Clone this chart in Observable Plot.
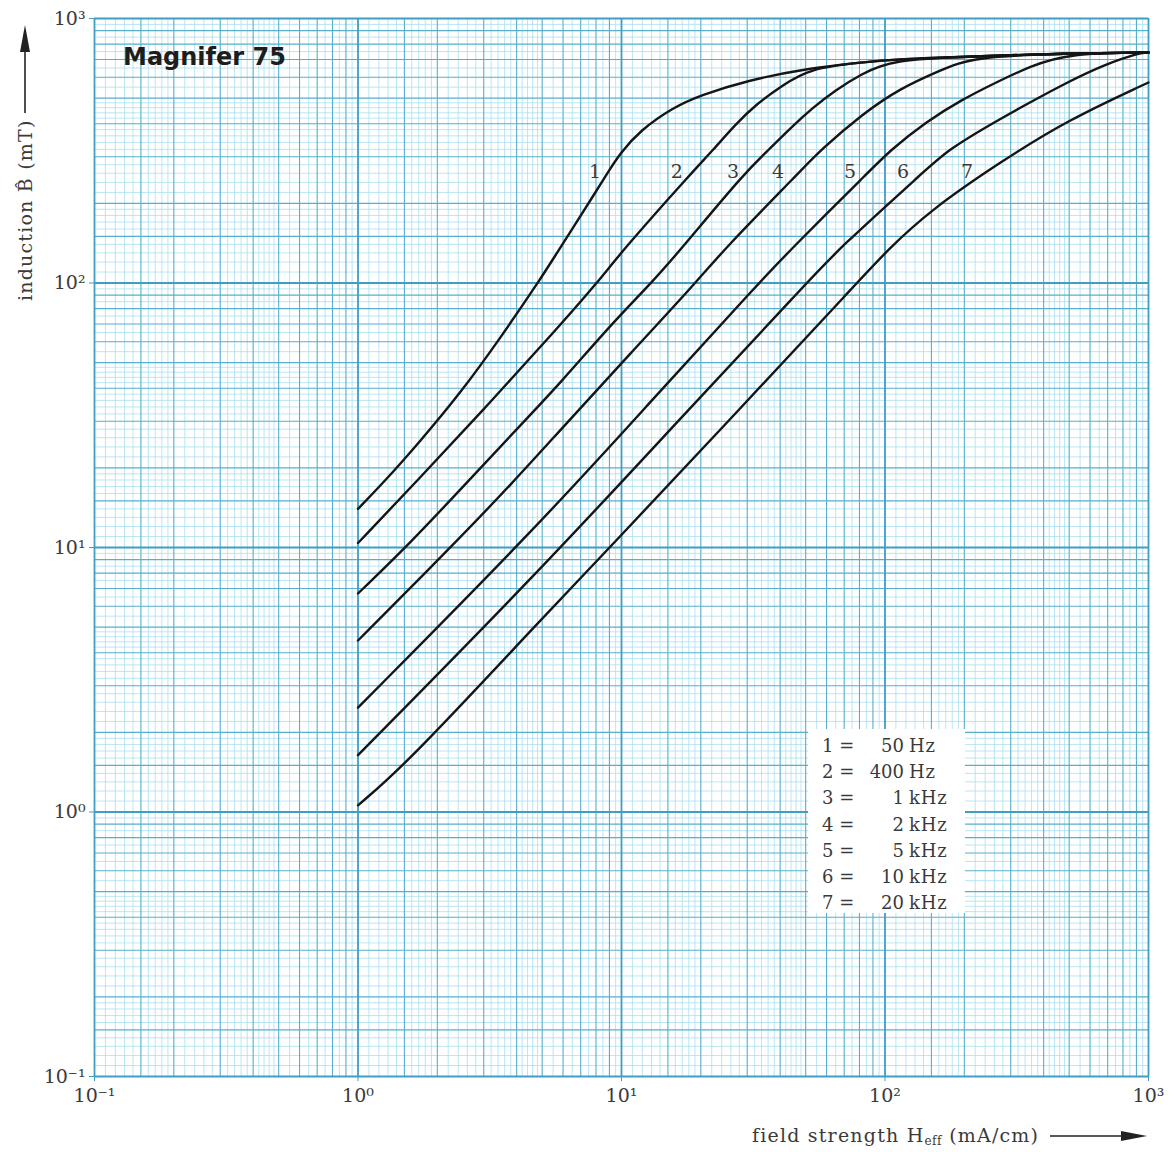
<!DOCTYPE html>
<html><head><meta charset="utf-8">
<script src="https://cdn.jsdelivr.net/npm/d3@7"></script>
<script src="https://cdn.jsdelivr.net/npm/@observablehq/plot@0.6"></script>
<style>html,body{margin:0;padding:0;background:#fff;} #chart{position:relative;width:1171px;height:1152px;}</style>
</head><body><div id="chart"></div>
<script>
// B-H curves (H in mA/cm, B in mT)
const curve1 = [[1,14.0],[1.27,17.9],[1.72,25.2],[2.44,38.2],[3.46,61.7],[4.91,103],[5.69,130],[6.66,166],[7.73,210],[8.81,259],[9.87,309],[11.75,377],[15.7,461],[19.9,512],[29.9,583],[50.6,647],[80.4,682],[114,703],[210,718],[491,738],[1000,744]];
const curve2 = [[1,10.4],[1.68,17.9],[3.17,35.3],[5.84,69.1],[8.15,101],[10.1,133],[18.5,262],[22.2,317],[27.0,397],[32.7,477],[40.7,558],[51.9,647],[80.4,682],[114,703],[210,718],[491,738],[1000,744]];
const curve3 = [[1,6.70],[1.58,10.4],[2.59,17.6],[4.12,28.9],[5.84,41.7],[9.05,69.1],[13.1,101],[16.7,133],[29.4,262],[36.6,322],[43.6,384],[53.3,461],[64.6,534],[80.4,614],[107,700],[210,718],[491,738],[1000,744]];
const curve4 = [[1,4.45],[2.29,10.2],[3.87,17.6],[5.84,27.7],[10.8,54.1],[19.3,101],[24.3,133],[48.0,266],[56.7,317],[82.5,437],[114,544],[162,636],[216,717],[491,738],[1000,744]];
const curve5 = [[1,2.48],[4.91,12.3],[12.8,35.3],[33.5,101],[43.6,133],[87.7,266],[104.5,317],[144,408],[193,490],[273,583],[355,658],[491,738],[1000,744]];
const curve6 = [[1,1.64],[4.91,8.19],[16.7,30.7],[51.0,101],[65.8,133],[142,266],[172,317],[266,412],[504,583],[684,670],[905,738],[1000,744]];
const curve7 = [[1,1.06],[1.54,1.53],[4.91,5.30],[9.20,10.2],[28.2,33.5],[79.0,101],[102,133],[148,188],[273,286],[491,412],[1000,573]];

const curveNames = ["1","2","3","4","5","6","7"];
const labelH = [7.93, 16.2, 26.5, 39.3, 73.7, 117, 205];
const labelB = [264, 264, 264, 264, 264, 264, 264];

const legendNum = ["1","2","3","4","5","6","7"];
const legendValue = ["50","400","1","2","5","10","20"];
const legendUnit = ["Hz","Hz","kHz","kHz","kHz","kHz","kHz"];

const decades = [0.1, 1, 10, 100, 1000];
const decadeLabels = ["10\u207B\u00B9","10\u2070","10\u00B9","10\u00B2","10\u00B3"];
const majorMult = [1.5,2,3,4,5,6,7,8,9];
const fineMult = [1.1,1.2,1.3,1.4,1.6,1.7,1.8,1.9,2.2,2.4,2.6,2.8,3.2,3.4,3.6,3.8,4.2,4.4,4.6,4.8,5.5,6.5,7.5,8.5,9.5];

const titleText = "Magnifer 75";
const yLabel = "induction B\u0302 (mT)";

const decadeStarts = decades.slice(0, -1);
const majorGrid = decadeStarts.flatMap(d => majorMult.map(m => d * m));
const fineGrid = decadeStarts.flatMap(d => fineMult.map(m => d * m));

const curves = [curve1, curve2, curve3, curve4, curve5, curve6, curve7];
const rows = curves.flatMap((c, i) => c.map(([H, B]) => ({H, B, curve: curveNames[i]})));
const labels = curveNames.map((n, i) => ({n, H: labelH[i], B: labelB[i]}));

const fineColor = "#aadff0", majorColor = "#56afcc", decadeColor = "#3f9ec2";
const serif = "'DejaVu Serif', serif";

const svg = Plot.plot({
  width: 1171, height: 1152,
  marginLeft: 94, marginRight: 23, marginTop: 18, marginBottom: 76,
  x: {type: "log", domain: [0.1, 1000]},
  y: {type: "log", domain: [0.1, 1000]},
  style: {fontFamily: serif, fontSize: "19px", background: "white", color: "#333"},
  marks: [
    Plot.ruleX(fineGrid, {stroke: fineColor, strokeWidth: 0.8}),
    Plot.ruleY(fineGrid, {stroke: fineColor, strokeWidth: 0.8}),
    Plot.ruleX(majorGrid, {stroke: majorColor, strokeWidth: 1.1}),
    Plot.ruleY(majorGrid, {stroke: majorColor, strokeWidth: 1.1}),
    Plot.ruleX(decades, {stroke: decadeColor, strokeWidth: 1.8}),
    Plot.ruleY(decades, {stroke: decadeColor, strokeWidth: 1.8}),
    Plot.axisX({ticks: decades, tickFormat: d => decadeLabels[decades.indexOf(d)], tickSize: 5, tickPadding: 7, stroke: decadeColor, fill: "#3a3a3a", label: null, fontSize: 19}),
    Plot.axisY({ticks: decades, tickFormat: d => decadeLabels[decades.indexOf(d)], tickSize: 5, tickPadding: 4, stroke: decadeColor, fill: "#3a3a3a", label: null, fontSize: 19}),
    Plot.line(rows, {x: "H", y: "B", z: "curve", stroke: "#151515", strokeWidth: 2.4, curve: "basis"}),
    Plot.text(labels, {x: "H", y: "B", text: "n", fontSize: 19, fill: "#3a3a3a", fontFamily: serif})
  ]
});
document.getElementById("chart").appendChild(svg);

const s = d3.select(svg);
// title
s.append("text").attr("x", 123).attr("y", 65).attr("text-anchor", "start")
  .style("font-family", "'DejaVu Sans', sans-serif").style("font-weight", "bold").style("font-size", "24px")
  .attr("fill", "#1d1d1d").text(titleText);

// y label + arrow
s.append("text").attr("transform", "translate(32,301) rotate(-90)").attr("text-anchor", "start")
  .style("font-family", serif).style("font-size", "19px").style("letter-spacing", "1.2px").attr("fill", "#3a3a3a").text(yLabel);
s.append("line").attr("x1", 25).attr("x2", 25).attr("y1", 113).attr("y2", 48).attr("stroke", "#222").attr("stroke-width", 1.6);
s.append("path").attr("d", "M25,25 L20,52 L30,52 Z").attr("fill", "#222");

// x label + arrow
const xl = s.append("text").attr("x", 752).attr("y", 1142).attr("text-anchor", "start")
  .style("font-family", serif).style("font-size", "19px").style("letter-spacing", "1.2px").attr("fill", "#3a3a3a");
xl.append("tspan").text("field strength H");
xl.append("tspan").attr("dy", 3).style("font-size", "12px").style("letter-spacing", "0.5px").text("eff");
xl.append("tspan").attr("dy", -3).text(" (mA/cm)");
s.append("line").attr("x1", 1050).attr("x2", 1128).attr("y1", 1136).attr("y2", 1136).attr("stroke", "#222").attr("stroke-width", 1.6);
s.append("path").attr("d", "M1147,1136 L1121,1131 L1121,1141 Z").attr("fill", "#222");

// legend box
const lg = s.append("g");
lg.append("rect").attr("x", 808).attr("y", 729).attr("width", 157).attr("height", 184).attr("fill", "white");
legendNum.forEach((n, i) => {
  const y = 752 + i * 26.2;
  lg.append("text").attr("x", 822).attr("y", y).attr("text-anchor", "start").style("font-family", serif).style("font-size", "18px").attr("fill", "#3a3a3a").text(n + " =");
  lg.append("text").attr("x", 904).attr("y", y).attr("text-anchor", "end").style("font-family", serif).style("font-size", "18px").attr("fill", "#3a3a3a").text(legendValue[i]);
  lg.append("text").attr("x", 909).attr("y", y).attr("text-anchor", "start").style("font-family", serif).style("font-size", "18px").style("letter-spacing", "0.8px").attr("fill", "#3a3a3a").text(legendUnit[i]);
});
</script>
</body></html>
